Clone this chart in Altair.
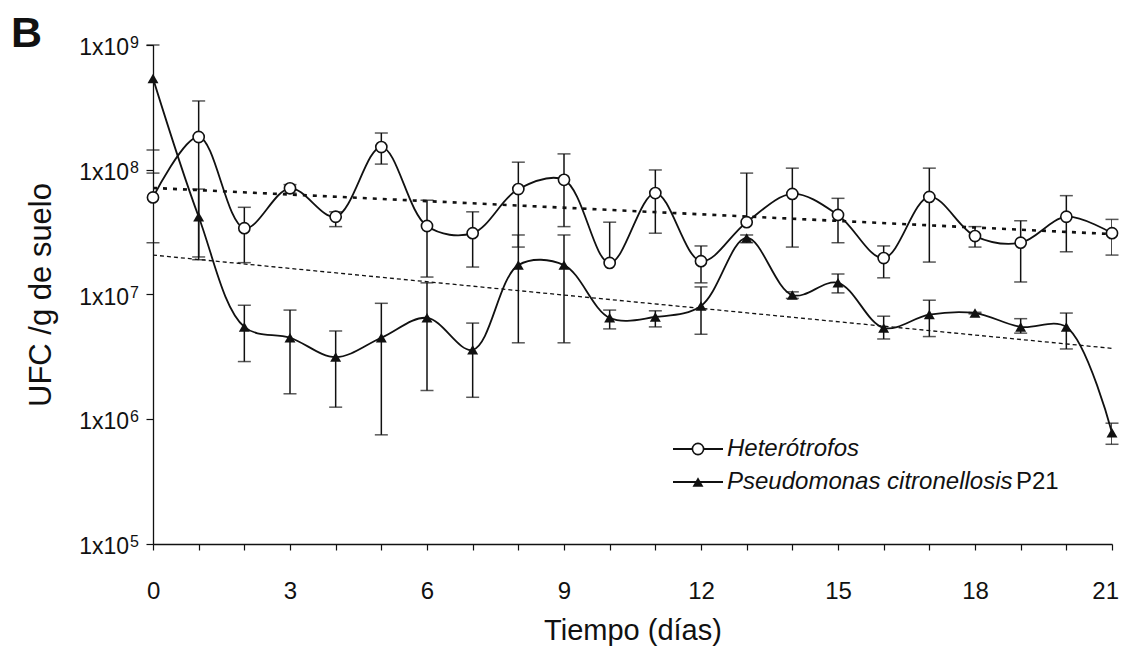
import altair as alt
import pandas as pd

# ---------------- data ----------------
days = list(range(22))

het_mean = [6.0e7, 1.83e8, 3.4e7, 7.1e7, 4.2e7, 1.52e8, 3.54e7, 3.1e7, 7.0e7, 8.3e7, 1.79e7,
            6.5e7, 1.85e7, 3.8e7, 6.4e7, 4.34e7, 1.96e7, 6.05e7, 2.94e7, 2.6e7, 4.2e7, 3.1e7]
het_low = [2.6e7, 2.0e7, 1.8e7, 6.5e7, 3.5e7, 1.11e8, 1.38e7, 1.66e7, 2.4e7, 3.5e7, 1.79e7,
           3.1e7, 1.24e7, 3.8e7, 2.4e7, 2.6e7, 1.36e7, 1.82e7, 2.4e7, 1.26e7, 2.2e7, 2.07e7]
het_high = [9.4e7, 3.56e8, 5.0e7, 7.6e7, 4.6e7, 1.97e8, 5.7e7, 4.6e7, 1.15e8, 1.34e8, 3.8e7,
            9.96e7, 2.45e7, 9.4e7, 1.03e8, 5.9e7, 2.45e7, 1.03e8, 3.5e7, 3.9e7, 6.2e7, 4.0e7]

pse_mean = [5.4e8, 4.2e7, 5.5e6, 4.5e6, 3.15e6, 4.5e6, 6.5e6, 3.6e6, 1.72e7, 1.72e7, 6.5e6,
            6.6e6, 8.1e6, 2.84e7, 9.9e6, 1.24e7, 5.4e6, 6.9e6, 7.1e6, 5.5e6, 5.5e6, 7.8e5]
pse_low = [1.44e8, 1.9e7, 2.9e6, 1.6e6, 1.25e6, 7.5e5, 1.7e6, 1.5e6, 4.1e6, 4.1e6, 5.3e6,
           5.5e6, 4.8e6, 2.6e7, 9.3e6, 1.03e7, 4.4e6, 4.6e6, 7.0e6, 4.9e6, 3.66e6, 6.3e5]
pse_high = [1.0e9, 7.0e7, 8.2e6, 7.5e6, 5.1e6, 8.5e6, 1.24e7, 5.9e6, 3.0e7, 3.0e7, 7.5e6,
            7.4e6, 1.15e7, 3.0e7, 1.05e7, 1.46e7, 6.7e6, 9.0e6, 7.2e6, 6.4e6, 7.1e6, 9.3e5]

trend_days = [0, 21]
het_trend = [7.15e7, 3.05e7]
pse_trend = [2.07e7, 3.7e6]

y_tick_values = [1e5, 1e6, 1e7, 1e8, 1e9]
y_tick_mantissa = ["1x10", "1x10", "1x10", "1x10", "1x10"]
y_tick_exponent = ["5", "6", "7", "8", "9"]
x_tick_values = days
x_label_step = 3

series_names = ["Heterótrofos", "Pseudomonas citronellosis"]
legend_suffix = "P21"
panel_letter = "B"
x_title = "Tiempo (días)"
y_title = "UFC /g de suelo"

# ---------------- tables ----------------
het = pd.DataFrame({"day": days, "mean": het_mean, "low": het_low, "high": het_high,
                    "series": series_names[0]})
pse = pd.DataFrame({"day": days, "mean": pse_mean, "low": pse_low, "high": pse_high,
                    "series": series_names[1]})
allser = pd.concat([het, pse], ignore_index=True)

caps_rows = []
for _, r in allser.iterrows():
    if r["low"] < r["mean"]:
        caps_rows.append({"day": r["day"], "v": r["low"]})
    if r["high"] > r["mean"]:
        caps_rows.append({"day": r["day"], "v": r["high"]})
caps = pd.DataFrame(caps_rows)

het_tr = pd.DataFrame({"day": trend_days, "v": het_trend})
pse_tr = pd.DataFrame({"day": trend_days, "v": pse_trend})
ylab = pd.DataFrame({"v": y_tick_values, "m": y_tick_mantissa, "e": y_tick_exponent})

FONT = "Liberation Sans"
INK = "#111111"

xscale = alt.Scale(domain=[0, 21], nice=False, zero=False)
yscale = alt.Scale(type="log", domain=[1e5, 1e9], nice=False)

xenc = alt.X("day:Q", scale=xscale, axis=alt.Axis(
    values=x_tick_values, labelExpr=f"datum.value % {x_label_step} == 0 ? datum.value : ''",
    title=x_title, grid=False, tickSize=6, labelPadding=29, labelFontSize=24,
    labelFont=FONT, titleFont=FONT, titleFontSize=29, titleFontWeight="normal",
    titlePadding=13, domainColor=INK, tickColor=INK, labelColor=INK, titleColor=INK,
    domainWidth=1.3, tickWidth=1.2, labelFlush=True, labelFlushOffset=6.5))

def yenc(field):
    return alt.Y(field, scale=yscale, axis=alt.Axis(
        values=y_tick_values, labels=False, title=y_title, grid=False,
        tickSize=7, labelPadding=8, labelFontSize=22, labelFont=FONT,
        titleFont=FONT, titleFontSize=31, titleFontWeight="normal", titlePadding=88,
        domainColor=INK, tickColor=INK, labelColor=INK, titleColor=INK,
        domainWidth=1.3, tickWidth=1.2))

base = alt.Chart(allser)

trend_het = alt.Chart(het_tr).mark_line(color=INK, strokeWidth=2.6, strokeDash=[4, 6]).encode(
    x=xenc, y=yenc("v:Q"))
trend_pse = alt.Chart(pse_tr).mark_line(color=INK, strokeWidth=1.3, strokeDash=[4, 3]).encode(
    x=xenc, y=yenc("v:Q"))

lines = base.mark_line(color=INK, strokeWidth=1.8, interpolate="catmull-rom").encode(
    x=xenc, y=yenc("mean:Q"), detail="series:N")

err = base.mark_rule(color=INK, strokeWidth=1.5, clip=True).encode(
    x=xenc, y=yenc("low:Q"), y2="high:Q")

capm = alt.Chart(caps).mark_tick(color=INK, orient="horizontal", size=13, thickness=1.5).encode(
    x=xenc, y=yenc("v:Q"))

pts_het = alt.Chart(het).mark_point(shape="circle", filled=True, fill="white", stroke=INK,
                                    strokeWidth=1.6, size=125, opacity=1).encode(
    x=xenc, y=yenc("mean:Q"))
pts_pse = alt.Chart(pse).mark_point(shape="triangle-up", filled=True, color=INK,
                                    size=120, opacity=1).encode(
    x=xenc, y=yenc("mean:Q"))

# y tick labels with real superscript exponents
ylab_m = alt.Chart(ylab).mark_text(font=FONT, fontSize=23, align="right", baseline="middle",
                                   color=INK, dy=3).encode(
    x=alt.value(-24), y=alt.Y("v:Q", scale=yscale), text="m:N")
ylab_e = alt.Chart(ylab).mark_text(font=FONT, fontSize=16, align="left", baseline="middle",
                                   color=INK, dy=-2).encode(
    x=alt.value(-23), y=alt.Y("v:Q", scale=yscale), text="e:N")

# ---------------- legend (drawn inside the plot) ----------------
one = pd.DataFrame({"k": [0]})
LX0, LX1, LXM, LTX = 520, 570, 545, 574
R1, R2 = 404, 437
leg = [
    alt.Chart(one).mark_rule(color=INK, strokeWidth=1.8).encode(
        x=alt.value(LX0), x2=alt.value(LX1), y=alt.value(R1)),
    alt.Chart(one).mark_rule(color=INK, strokeWidth=1.8).encode(
        x=alt.value(LX0), x2=alt.value(LX1), y=alt.value(R2)),
    alt.Chart(one).mark_point(shape="circle", filled=True, fill="white", stroke=INK,
                              strokeWidth=1.6, size=125, opacity=1).encode(
        x=alt.value(LXM), y=alt.value(R1)),
    alt.Chart(one).mark_point(shape="triangle-up", filled=True, color=INK, size=120,
                              opacity=1).encode(x=alt.value(LXM), y=alt.value(R2)),
    alt.Chart(one).mark_text(text=series_names[0], font=FONT, fontSize=24, fontStyle="italic",
                             align="left", baseline="middle", color=INK).encode(
        x=alt.value(LTX), y=alt.value(R1)),
    alt.Chart(one).mark_text(text=series_names[1], font=FONT, fontSize=24, fontStyle="italic",
                             align="left", baseline="middle", color=INK).encode(
        x=alt.value(LTX), y=alt.value(R2)),
    alt.Chart(one).mark_text(text=legend_suffix, font=FONT, fontSize=24,
                             align="left", baseline="middle", color=INK).encode(
        x=alt.value(863), y=alt.value(R2)),
    alt.Chart(one).mark_text(text=panel_letter, font=FONT, fontSize=43, fontWeight="bold",
                             align="left", baseline="alphabetic", color=INK).encode(
        x=alt.value(-142), y=alt.value(2)),
]

chart = alt.layer(trend_het, trend_pse, lines, err, capm, pts_het, pts_pse,
                  ylab_m, ylab_e, *leg).properties(
    width=959, height=499,
    autosize=alt.AutoSizeParams(type="none"),
    padding={"left": 145, "top": 37, "right": 8, "bottom": 102},
    background="white",
).configure_view(stroke=None)

chart.save("out.html", embed_options={"renderer": "svg", "actions": False})
